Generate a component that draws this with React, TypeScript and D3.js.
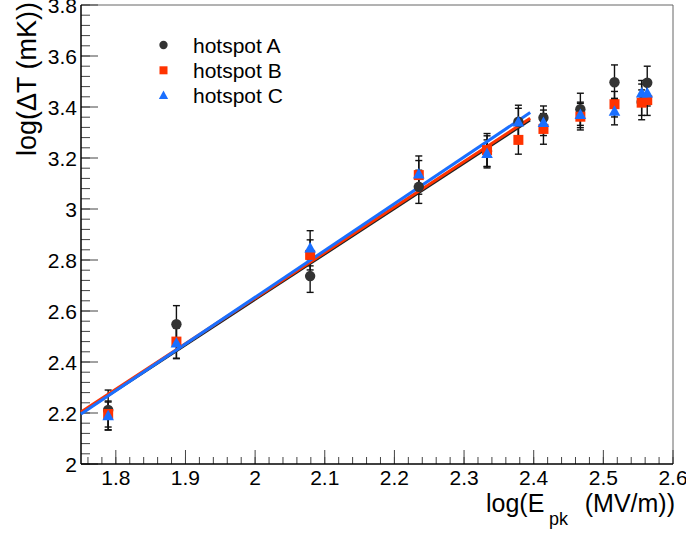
import React from "react";
import * as d3 from "d3";

const xValues = [1.789, 1.887, 2.079, 2.235, 2.333, 2.378, 2.414, 2.467, 2.516, 2.555, 2.563];
const seriesA = [2.212, 2.548, 2.737, 3.087, 3.227, 3.342, 3.358, 3.391, 3.497, 3.42, 3.495];
const errA = [0.078, 0.073, 0.064, 0.065, 0.06, 0.065, 0.046, 0.063, 0.068, 0.07, 0.065];
const seriesB = [2.196, 2.48, 2.82, 3.133, 3.231, 3.271, 3.314, 3.362, 3.411, 3.417, 3.427];
const errB = [0.051, 0.065, 0.059, 0.075, 0.065, 0.056, 0.06, 0.052, 0.05, 0.05, 0.06];
const seriesC = [2.188, 2.473, 2.846, 3.136, 3.216, 3.34, 3.338, 3.369, 3.382, 3.454, 3.454];
const errC = [0.055, 0.06, 0.069, 0.054, 0.055, 0.055, 0.05, 0.05, 0.052, 0.05, 0.05];

const fitX = [1.75, 2.395];
const fitA = [2.2, 3.35];
const fitB = [2.204, 3.356];
const fitC = [2.196, 3.378];

const xTicks = [1.8, 1.9, 2.0, 2.1, 2.2, 2.3, 2.4, 2.5, 2.6];
const xTickLabels = ["1.8", "1.9", "2", "2.1", "2.2", "2.3", "2.4", "2.5", "2.6"];
const yTicks = [2.0, 2.2, 2.4, 2.6, 2.8, 3.0, 3.2, 3.4, 3.6, 3.8];
const yTickLabels = ["2", "2.2", "2.4", "2.6", "2.8", "3", "3.2", "3.4", "3.6", "3.8"];
const legendLabels = ["hotspot A", "hotspot B", "hotspot C"];

const COLOR_A = "#333333";
const COLOR_B = "#ff3300";
const COLOR_C = "#1a6fff";
const FONT = "'Liberation Sans', Arial, Helvetica, sans-serif";

const W = 686;
const H = 535;
const L = 81;
const R = 673;
const T = 5;
const B = 464;

function Marker({ kind, x, y, s = 1 }: { kind: string; x: number; y: number; s?: number }) {
  if (kind === "A") return <circle cx={x} cy={y} r={5.2 * s} fill={COLOR_A} />;
  if (kind === "B")
    return <rect x={x - 5 * s} y={y - 5 * s} width={10 * s} height={10 * s} fill={COLOR_B} />;
  const h = 10.5 * s;
  const w = 5.8 * s;
  return (
    <path
      d={`M${x},${y - h * 0.6} L${x + w},${y + h * 0.4} L${x - w},${y + h * 0.4} Z`}
      fill={COLOR_C}
    />
  );
}

export default function App() {
  const x = d3.scaleLinear().domain([1.75, 2.6]).range([L, R]);
  const y = d3.scaleLinear().domain([2.0, 3.8]).range([B, T]);

  const xMinor = d3.range(1.76, 2.6001, 0.02);
  const yMinor = d3.range(2.0, 3.8001, 0.04);

  const series = [
    { kind: "A", vals: seriesA, errs: errA },
    { kind: "B", vals: seriesB, errs: errB },
    { kind: "C", vals: seriesC, errs: errC },
  ];
  const fits = [
    { vals: fitA, color: "#222222" },
    { vals: fitB, color: COLOR_B },
    { vals: fitC, color: COLOR_C },
  ];
  const line = d3
    .line<[number, number]>()
    .x((d) => x(d[0]))
    .y((d) => y(d[1]));

  return (
    <svg
      width={W}
      height={H}
      style={{ position: "fixed", left: 0, top: 0, background: "#fff" }}
      fontFamily={FONT}
    >
      <rect x={0} y={0} width={W} height={H} fill="#fff" />
      {/* frame */}
      <line x1={L} x2={R} y1={T} y2={T} stroke="#666" strokeWidth={1} />
      <line x1={R} x2={R} y1={T} y2={B} stroke="#666" strokeWidth={1} />

      {/* x ticks */}
      {xMinor.map((v, i) => (
        <line key={"xm" + i} x1={x(v)} x2={x(v)} y1={B} y2={B - 7} stroke="#444" strokeWidth={1} />
      ))}
      {xTicks.map((v, i) => (
        <g key={"xt" + i}>
          <line x1={x(v)} x2={x(v)} y1={B} y2={B - 14} stroke="#444" strokeWidth={1} />
          <text x={x(v)} y={B + 21} textAnchor="middle" fontSize={21} fill="#000">
            {xTickLabels[i]}
          </text>
        </g>
      ))}
      {/* y ticks */}
      {yMinor.map((v, i) => (
        <line key={"ym" + i} x1={L} x2={L + 9} y1={y(v)} y2={y(v)} stroke="#444" strokeWidth={1} />
      ))}
      {yTicks.map((v, i) => (
        <g key={"yt" + i}>
          <line x1={L} x2={L + 17} y1={y(v)} y2={y(v)} stroke="#444" strokeWidth={1} />
          <text x={L - 4} y={y(v) + 7.5} textAnchor="end" fontSize={21} fill="#000">
            {yTickLabels[i]}
          </text>
        </g>
      ))}
      {/* axes */}
      <line x1={L} x2={R} y1={B} y2={B} stroke="#000" strokeWidth={1.5} />
      <line x1={L} x2={L} y1={T} y2={B} stroke="#000" strokeWidth={1.5} />

      {/* error bars */}
      {series.map((s) =>
        xValues.map((xv, i) => {
          const cx = x(xv);
          const y1 = y(s.vals[i] + s.errs[i]);
          const y2 = y(s.vals[i] - s.errs[i]);
          return (
            <g key={"e" + s.kind + i} stroke="#111" strokeWidth={1.4}>
              <line x1={cx} x2={cx} y1={y1} y2={y2} />
              <line x1={cx - 3.5} x2={cx + 3.5} y1={y1} y2={y1} />
              <line x1={cx - 3.5} x2={cx + 3.5} y1={y2} y2={y2} />
            </g>
          );
        })
      )}

      {/* fit lines */}
      {fits.map((f, k) => (
        <path
          key={"f" + k}
          d={line([
            [fitX[0], f.vals[0]],
            [fitX[1], f.vals[1]],
          ]) || ""}
          stroke={f.color}
          strokeWidth={k === 0 ? 2 : 3}
          fill="none"
          transform={k === 0 ? "translate(0,0.6)" : undefined}
        />
      ))}

      {/* markers */}
      {series.map((s) =>
        xValues.map((xv, i) => (
          <Marker key={"m" + s.kind + i} kind={s.kind} x={x(xv)} y={y(s.vals[i])} />
        ))
      )}

      {/* legend */}
      {legendLabels.map((lab, i) => (
        <g key={"lg" + i}>
          <Marker kind={["A", "B", "C"][i]} x={163.5} y={45 + i * 25.3} s={0.8} />
          <text x={193} y={45 + i * 25.3 + 7.5} fontSize={21} fill="#000">
            {lab}
          </text>
        </g>
      ))}

      {/* x title */}
      <text x={486} y={512} fontSize={25} fill="#000">
        log(E
      </text>
      <text x={549} y={525} fontSize={18} fill="#000">
        pk
      </text>
      <text x={675} y={512} textAnchor="end" fontSize={25} fill="#000">
        (MV/m))
      </text>

      {/* y title */}
      <text
        transform="translate(36,2) rotate(-90)"
        x={0}
        y={0}
        textAnchor="end"
        fontSize={27}
        fill="#000"
      >
        log(ΔT (mK))
      </text>
    </svg>
  );
}
